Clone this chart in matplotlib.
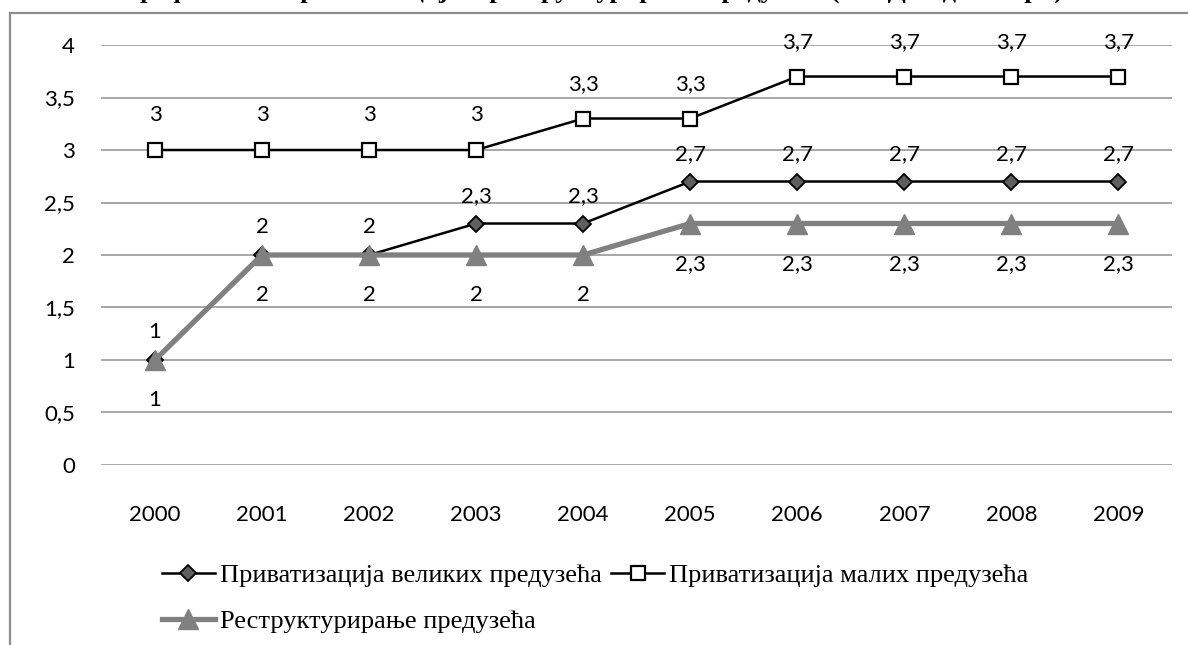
import matplotlib.pyplot as plt
from matplotlib.patches import Rectangle

years = ['2000', '2001', '2002', '2003', '2004', '2005', '2006', '2007', '2008', '2009']
large_priv = [1, 2, 2, 2.3, 2.3, 2.7, 2.7, 2.7, 2.7, 2.7]
small_priv = [3, 3, 3, 3, 3.3, 3.3, 3.7, 3.7, 3.7, 3.7]
restruct = [1, 2, 2, 2, 2, 2.3, 2.3, 2.3, 2.3, 2.3]
yticks = [0, 0.5, 1, 1.5, 2, 2.5, 3, 3.5, 4]

names = ['Приватизација великих предузећа',
         'Приватизација малих предузећа',
         'Реструктурирање предузећа']
title = 'Графикон 2: Приватизација и реструктурирање предузећа (ЕБРД индикатори)'


def fmt(v):
    return ('%g' % v).replace('.', ',')


plt.rcParams['font.family'] = ['Lato', 'DejaVu Sans']
fig = plt.figure(figsize=(11.88, 6.45), dpi=100)
ax = fig.add_axes([0.0854, 0.2791, 0.9011, 0.6511])

x = list(range(len(years)))
h1, = ax.plot(x, large_priv, color='black', lw=1.8, marker='D', ms=8,
              mfc='#5f5f5f', mec='black', mew=1.3, zorder=3)
h2, = ax.plot(x, small_priv, color='black', lw=1.8, marker='s', ms=10.5,
              mfc='white', mec='black', mew=1.6, zorder=3)
h3, = ax.plot(x, restruct, color='#808080', lw=3.8, marker='^', ms=14,
              mfc='#808080', mec='#808080', zorder=4)

fs = 16
for i in x:
    ax.annotate(fmt(large_priv[i]), (i, large_priv[i]), xytext=(0, 20),
                textcoords='offset points', ha='center', va='center', fontsize=fs)
    ax.annotate(fmt(small_priv[i]), (i, small_priv[i]), xytext=(0, 25),
                textcoords='offset points', ha='center', va='center', fontsize=fs)
    ax.annotate(fmt(restruct[i]), (i, restruct[i]), xytext=(0, -29),
                textcoords='offset points', ha='center', va='center', fontsize=fs)

ax.set_xlim(-0.5, len(years) - 0.5)
ax.set_ylim(0, 4)
ax.set_xticks(x)
ax.set_xticklabels(years)
ax.set_yticks(yticks)
ax.set_yticklabels([fmt(v) for v in yticks])
ax.tick_params(length=0, labelsize=fs)
ax.tick_params(axis='y', pad=19)
ax.tick_params(axis='x', pad=29)
ax.grid(axis='y', color='#a0a0a0', lw=1.3)
ax.set_axisbelow(True)
for s in ax.spines.values():
    s.set_visible(False)

leg = fig.legend([h1, h3, h2], [names[0], names[2], names[1]], ncol=2,
                 loc='upper left', bbox_to_anchor=(162 / 1188, 1 - 564 / 645),
                 frameon=False, borderpad=0, borderaxespad=0,
                 handlelength=2.0, handletextpad=0.2, columnspacing=0.35,
                 labelspacing=0.85,
                 prop={'family': 'Liberation Serif', 'size': 19})

# chart border, running off the right and bottom of the picture
fig.patches.append(Rectangle((10 / 1188, -0.1), 1.2, 1 - 13 / 645 + 0.1,
                             transform=fig.transFigure, fill=False,
                             edgecolor='#8c8c8c', lw=1.6))

# title of the page, only its lowest strokes show above the chart
fig.text(0.5, 1 + 2 / 645, title, ha='center', va='baseline',
         fontsize=19, fontweight='bold', family='Liberation Serif')

fig.savefig('out.png', dpi=100)
